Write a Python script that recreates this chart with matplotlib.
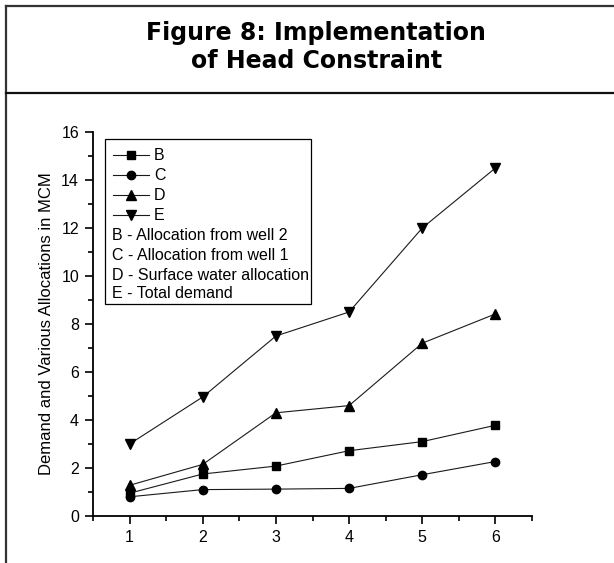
import matplotlib
matplotlib.use("Agg")
import matplotlib.pyplot as plt
from matplotlib.lines import Line2D
from matplotlib.patches import Rectangle
from matplotlib.ticker import MultipleLocator

# data
steps = [1, 2, 3, 4, 5, 6]
well2 = [0.95, 1.75, 2.08, 2.72, 3.10, 3.78]      # B
well1 = [0.80, 1.10, 1.12, 1.15, 1.72, 2.27]      # C
surface = [1.28, 2.15, 4.30, 4.60, 7.20, 8.42]    # D
total = [3.00, 4.96, 7.50, 8.50, 12.00, 14.50]    # E

series_keys = ["B", "C", "D", "E"]
series_desc = ["B - Allocation from well 2", "C - Allocation from well 1",
               "D - Surface water allocation", "E - Total demand"]
markers = ["s", "o", "^", "v"]
msizes = [5.5, 6, 7, 7]

W, H = 614, 563
INK = "#1a1a1a"
FRAME = "#333333"

plt.rcParams["font.family"] = ["Liberation Sans", "DejaVu Sans"]

fig = plt.figure(figsize=(W / 100, H / 100), dpi=100)
fig.patch.set_facecolor("white")

# frame and title band
fig.add_artist(Line2D([6 / W, 6 / W], [0, 1 - 6 / H], color=FRAME, lw=1.6))
fig.add_artist(Line2D([6 / W, 1], [1 - 6 / H, 1 - 6 / H], color=FRAME, lw=1.6))
fig.add_artist(Line2D([6 / W, 1], [1 - 93 / H, 1 - 93 / H], color="#111111", lw=1.6))
fig.text(0.515, 1 - 47 / H, "Figure 8: Implementation\nof Head Constraint",
         ha="center", va="center", fontsize=17, fontweight="bold",
         family="DejaVu Sans", linespacing=1.25, color="black")

ax = fig.add_axes([93 / W, 47 / H, 439 / W, 384 / H])
for vals, mk, ms in zip([well2, well1, surface, total], markers, msizes):
    ax.plot(steps, vals, color=INK, lw=0.8, marker=mk, markersize=ms,
            markerfacecolor="black", markeredgecolor="black")

ax.set_xlim(0.5, 6.5)
ax.set_ylim(0, 16)
ax.xaxis.set_major_locator(MultipleLocator(1))
ax.xaxis.set_minor_locator(MultipleLocator(0.5))
ax.yaxis.set_major_locator(MultipleLocator(2))
ax.yaxis.set_minor_locator(MultipleLocator(1))
ax.tick_params(which="major", direction="out", length=6, width=1.2,
               labelsize=11.5, pad=4, colors="black")
ax.tick_params(which="minor", direction="out", length=3.5, width=1.2)
for s in ("top", "right"):
    ax.spines[s].set_visible(False)
for s in ("left", "bottom"):
    ax.spines[s].set_linewidth(1.3)
ax.set_ylabel("Demand and Various Allocations in MCM", fontsize=12, labelpad=5)

# hand-built legend box like the original
def fx(px):
    return (px - 93) / 439

def fy(py):
    return (516 - py) / 384

ax.add_patch(Rectangle((fx(105), fy(304)), fx(311) - fx(105), fy(139) - fy(304),
                       transform=ax.transAxes, facecolor="white",
                       edgecolor="black", lw=0.9, zorder=5))
rows = [155, 175, 195, 215, 235, 255, 275, 294]
for i, (key, mk, ms) in enumerate(zip(series_keys, markers, msizes)):
    yy = fy(rows[i])
    ax.plot([fx(113), fx(149)], [yy, yy], transform=ax.transAxes, color=INK,
            lw=0.8, zorder=6, clip_on=False)
    ax.plot([fx(131)], [yy], transform=ax.transAxes, marker=mk, markersize=ms,
            color="black", zorder=7, clip_on=False)
    ax.text(fx(154), yy, key, transform=ax.transAxes, va="center", ha="left",
            fontsize=11.5, zorder=7)
for j, desc in enumerate(series_desc):
    ax.text(fx(112), fy(rows[4 + j]), desc, transform=ax.transAxes,
            va="center", ha="left", fontsize=11.5, zorder=7)

fig.savefig("out.png", dpi=100, facecolor="white")
